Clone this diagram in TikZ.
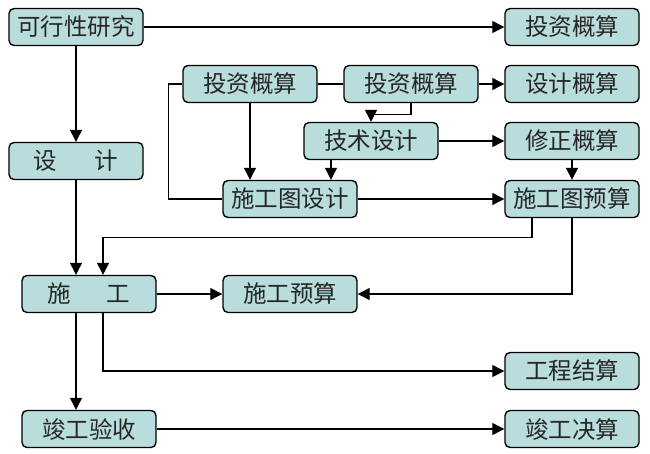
\documentclass[tikz,border=0pt]{standalone}
\usepackage{fontspec}
\usepackage{xcolor}
\usepackage{tikz}
\usetikzlibrary{positioning,arrows.meta}
\newfontfamily\cjk{Noto Sans CJK SC}
\definecolor{boxfill}{RGB}{185,220,220}
\tikzset{
	box/.style={draw, line width=1.4pt, rounded corners=5pt, fill=boxfill, minimum width=134pt, minimum height=37pt, inner sep=0pt, font=\cjk\fontsize{23.5}{23.5}\selectfont, text=black!85},
	arr/.style={line width=1.2pt, -{Triangle[length=12pt,width=12pt]}},
	ln/.style={line width=1.2pt}
}

\begin{document}
\begin{tikzpicture}[x=1pt,y=-1pt]
	\useasboundingbox (0,0) rectangle (650,453);
	\node[box] (kx) at (76,27) {可行性研究};
	\node[box] (tz) at (572,27) {投资概算};
	\node[box] (sj) at (76,161) {设\hspace{1.6em}计};
	\node[box] (tza) at (250,84) {投资概算};
	\node[box] (tzb) at (411,84) {投资概算};
	\node[box] (sjgs) at (572,84) {设计概算};
	\node[box] (jssj) at (371,141) {技术设计};
	\node[box] (xzgs) at (572,141) {修正概算};
	\node[box] (sgtsj) at (290,199) {施工图设计};
	\node[box] (sgtys) at (572,199) {施工图预算};
	\node[box] (sg) at (89,294) {施\hspace{1.5em}工};
	\node[box] (sgys) at (290,294) {施工预算};
	\node[box] (gcjs) at (572,371) {工程结算};
	\node[box] (jgys) at (89,429) {竣工验收};
	\node[box] (jgjs) at (572,429) {竣工决算};

	\draw[arr] (kx) -- (tz);
	\draw[arr] (kx) -- (sj);
	\draw[arr] (sj.south) -- (sj.south |- sg.north);
	\draw[ln] (tza.west) -- ++(-14,0) |- (sgtsj.west);
	\draw[ln] (tza) -- (tzb);
	\draw[arr] (tza.south) -- (tza.south |- sgtsj.north);
	\draw[arr] (tzb) -- (sjgs);
	\draw[arr] (tzb.south) -- ++(0,11) -| (jssj.north);
	\draw[arr] ([xshift=-40pt]jssj.south) -- ([xshift=-40pt]jssj.south |- sgtsj.north);
	\draw[arr] (jssj) -- (xzgs);
	\draw[arr] (xzgs) -- (sgtys);
	\draw[arr] (sgtsj) -- (sgtys);
	\draw[arr] ([xshift=-40pt]sgtys.south) -- ++(0,19) -| ([xshift=14pt]sg.north);
	\draw[arr] (sgtys.south) |- (sgys.east);
	\draw[arr] (sg) -- (sgys);
	\draw[arr] ([xshift=14pt]sg.south) |- (gcjs.west);
	\draw[arr] ([xshift=-13pt]sg.south) -- ([xshift=-13pt]sg.south |- jgys.north);
	\draw[arr] (jgys) -- (jgjs);
\end{tikzpicture}
\end{document}
